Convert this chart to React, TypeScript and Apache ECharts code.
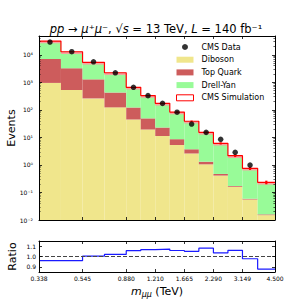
import React, { useEffect, useRef } from 'react';
import * as echarts from 'echarts';

// ---- data ----
const binEdges = [0.338, 0.43, 0.545, 0.693, 0.88, 1.032, 1.21, 1.419, 1.665, 1.952, 2.29, 2.685, 3.149, 3.72, 4.5];
const diboson = [950, 520, 260, 123, 45, 19.3, 11.2, 5.3, 2.6, 1.05, 0.41, 0.16, 0.056, 0.015];
const topQuark = [6050, 2690, 1020, 302, 76, 29.7, 11.6, 3.3, 1.1, 0.26, 0.06, 0.012, 0.003, 0.001];
const drellYan = [24500, 9640, 4020, 1795, 535, 281, 149, 74.4, 34.9, 13.9, 5.61, 1.99, 0.694, 0.217];
const cmsData: (number | null)[] = [29000, 12900, 5570, 2220, 656, 328, 172, 82, 30.5, 15.2, 8.5, 2.87, 0.99, null];
const simRelErr = [0.005, 0.008, 0.01, 0.015, 0.02, 0.03, 0.04, 0.05, 0.06, 0.07, 0.09, 0.11, 0.13, 0.15];
const ratio = [0.96, 0.96, 1.003, 1.02, 1.056, 1.066, 1.072, 1.058, 1.05, 1.081, 1.035, 1.06, 0.978, 0.878];
const xTickValues = [0.338, 0.545, 0.88, 1.21, 1.665, 2.29, 3.149, 4.5];
const xTickLabels = ['0.338', '0.545', '0.880', '1.210', '1.665', '2.290', '3.149', '4.500'];
const yDecades = [-2, -1, 0, 1, 2, 3, 4];
const ratioTicks = [0.9, 1.0, 1.1];
const eventsRange = [0.01, 48000];
const ratioRange = [0.85, 1.15];

const COLORS = {
  diboson: '#f0e68c',
  top: '#cd5c5c',
  dy: '#98fb98',
  sim: '#ff0000',
  band: '#f5a3a3',
  ratio: '#1a1aff',
};
const FONT = 'DejaVu Sans';

const lg = (v: number) => Math.log10(v);
const SUP: Record<string, string> = { '-': '⁻', '0': '⁰', '1': '¹', '2': '²', '3': '³', '4': '⁴', '5': '⁵', '6': '⁶', '7': '⁷', '8': '⁸', '9': '⁹' };
const sup = (n: number) => String(n).split('').map((c) => SUP[c] || c).join('');

function buildOption() {
  const n = binEdges.length - 1;
  const lo = binEdges.slice(0, -1).map(lg);
  const hi = binEdges.slice(1).map(lg);
  const centers = lo.map((l, i) => (l + hi[i]) / 2);
  const c1 = diboson.map((v) => v);
  const c2 = c1.map((v, i) => v + topQuark[i]);
  const c3 = c2.map((v, i) => v + drellYan[i]);
  const yMinL = lg(eventsRange[0]);
  const yMaxL = lg(eventsRange[1]);
  const xMinL = lg(binEdges[0]);
  const xMaxL = lg(binEdges[n]);
  const xTicksL = xTickValues.map(lg);

  const minor: number[] = [];
  for (const e of yDecades) {
    for (let k = 2; k <= 9; k++) {
      const v = lg(k) + e;
      if (v < yMaxL) minor.push(v);
    }
  }

  const rectRender = (color: string) => (params: any, api: any) => {
    const p0 = api.coord([api.value(0), api.value(3)]);
    const p1 = api.coord([api.value(1), api.value(2)]);
    return {
      type: 'rect',
      shape: { x: p0[0], y: p0[1], width: p1[0] - p0[0], height: p1[1] - p0[1] },
      style: { fill: color },
    };
  };

  const stackData = (base: number[] | null, top: number[]) =>
    top.map((t, i) => [lo[i], hi[i], base ? lg(base[i]) : yMinL, lg(t)]);

  const simData = c3.map((t, i) => [lo[i], hi[i], lg(t), centers[i], lg(t * (1 - simRelErr[i])), lg(t * (1 + simRelErr[i]))]);

  const stepData = binEdges.map((e, i) => [lg(e), lg(c3[Math.min(i, n - 1)])]);
  const ratioStep = binEdges.map((e, i) => [lg(e), ratio[Math.min(i, n - 1)]]);
  const dataPts = centers
    .map((c, i) => (cmsData[i] == null ? null : [c, lg(cmsData[i] as number)]))
    .filter((p) => p !== null);

  const tickStyle = { inside: true, length: 3, lineStyle: { color: '#000', width: 0.8 } };
  const minorTickStyle = { inside: true, length: 1.6, lineStyle: { color: '#000', width: 0.6 } };
  const axLine = { show: true, onZero: false, lineStyle: { color: '#000', width: 1 } };
  const noLine = { show: false, onZero: false };
  const labelFont = { fontFamily: FONT, fontSize: 6, color: '#000' };

  const xBase = (gridIndex: number, position: string) => ({
    type: 'value',
    gridIndex,
    position,
    min: xMinL,
    max: xMaxL,
    z: 10,
    axisLine: axLine,
    splitLine: { show: false },
    axisTick: { ...tickStyle, customValues: xTicksL },
    axisLabel: { show: false },
  });

  const yMain = (position: string, minorOnly: boolean, labels: boolean) => ({
    type: 'value',
    gridIndex: 0,
    position,
    min: yMinL,
    max: yMaxL,
    z: 10,
    axisLine: minorOnly ? noLine : axLine,
    splitLine: { show: false },
    axisTick: minorOnly ? { ...minorTickStyle, customValues: minor } : { ...tickStyle, customValues: yDecades },
    axisLabel: labels
      ? { show: true, customValues: yDecades, formatter: (v: number) => '10' + sup(Math.round(v)), margin: 6, ...labelFont }
      : { show: false },
    name: labels ? 'Events' : '',
    nameLocation: 'middle',
    nameGap: 22,
    nameMoveOverlap: false,
    nameTextStyle: { fontFamily: FONT, fontSize: 11, color: '#000' },
  });

  const yRatio = (position: string, labels: boolean) => ({
    type: 'value',
    gridIndex: 1,
    position,
    min: ratioRange[0],
    max: ratioRange[1],
    z: 10,
    axisLine: axLine,
    splitLine: { show: false },
    axisTick: { ...tickStyle, customValues: ratioTicks },
    axisLabel: labels
      ? { show: true, customValues: ratioTicks, formatter: (v: number) => v.toFixed(1), margin: 3, ...labelFont }
      : { show: false },
    name: labels ? 'Ratio' : '',
    nameLocation: 'middle',
    nameGap: 21.5,
    nameMoveOverlap: false,
    nameTextStyle: { fontFamily: FONT, fontSize: 11, color: '#000' },
  });

  const xRatioBottom = {
    ...xBase(1, 'bottom'),
    axisLabel: {
      show: true,
      customValues: xTicksL,
      margin: 3,
      ...labelFont,
      formatter: (v: number) => {
        let best = 0;
        xTicksL.forEach((t, i) => {
          if (Math.abs(t - v) < Math.abs(xTicksL[best] - v)) best = i;
        });
        return xTickLabels[best];
      },
    },
    name: '{i|m}{s|μμ}{n| (TeV)}',
    nameLocation: 'middle',
    nameGap: 12,
    nameMoveOverlap: false,
    nameTextStyle: {
      fontFamily: FONT,
      fontSize: 11,
      color: '#000',
      rich: {
        i: { fontFamily: FONT, fontSize: 11, fontStyle: 'italic', color: '#000' },
        s: { fontFamily: FONT, fontSize: 8, fontStyle: 'italic', color: '#000', padding: [6, 0, 0, 0] },
        n: { fontFamily: FONT, fontSize: 11, color: '#000' },
      },
    },
  };

  return {
    animation: false,
    backgroundColor: '#fff',
    textStyle: { fontFamily: FONT },
    grid: [
      { left: 39, right: 31, top: 36, height: 184, outerBoundsMode: 'none' },
      { left: 39, right: 31, top: 241, height: 31, outerBoundsMode: 'none' },
    ],
    xAxis: [xBase(0, 'bottom'), xBase(0, 'top'), xRatioBottom, xBase(1, 'top')],
    yAxis: [
      yMain('left', false, true),
      yMain('left', true, false),
      yMain('right', false, false),
      yMain('right', true, false),
      yRatio('left', true),
      yRatio('right', false),
    ],
    legend: {
      orient: 'vertical',
      left: 176,
      top: 43,
      padding: 0,
      itemWidth: 17,
      itemHeight: 6,
      itemGap: 4.7,
      selectedMode: false,
      textStyle: { fontFamily: FONT, fontSize: 8, color: '#000', padding: [0, 0, 0, 3] },
      data: [
        { name: 'CMS Data', icon: 'circle', itemStyle: { color: '#000' } },
        { name: 'Diboson', icon: 'rect', itemStyle: { color: COLORS.diboson } },
        { name: 'Top Quark', icon: 'rect', itemStyle: { color: COLORS.top } },
        { name: 'Drell-Yan', icon: 'rect', itemStyle: { color: COLORS.dy } },
        { name: 'CMS Simulation', icon: 'rect', itemStyle: { color: '#fff', borderColor: COLORS.sim, borderWidth: 1 } },
      ],
    },
    graphic: [
      {
        type: 'text',
        x: 156,
        y: 29,
        z: 100,
        style: {
          text: '{i|pp}{n| → }{i|μ}{n|⁺}{i|μ}{n|⁻, √}{i|s}{n| = 13 TeV, }{i|L}{n| = 140 fb⁻¹}',
          align: 'center',
          verticalAlign: 'middle',
          fill: '#000',
          fontFamily: FONT,
          fontSize: 11.5,
          rich: {
            i: { fontFamily: FONT, fontSize: 11.5, fontStyle: 'italic', fill: '#000' },
            n: { fontFamily: FONT, fontSize: 11.5, fill: '#000' },
          },
        },
      },
    ],
    series: [
      {
        name: 'Diboson',
        type: 'custom',
        xAxisIndex: 0,
        yAxisIndex: 0,
        itemStyle: { color: COLORS.diboson },
        renderItem: rectRender(COLORS.diboson),
        encode: { x: [0, 1], y: [2, 3] },
        data: stackData(null, c1),
      },
      {
        name: 'Top Quark',
        type: 'custom',
        xAxisIndex: 0,
        yAxisIndex: 0,
        itemStyle: { color: COLORS.top },
        renderItem: rectRender(COLORS.top),
        encode: { x: [0, 1], y: [2, 3] },
        data: stackData(c1, c2),
      },
      {
        name: 'Drell-Yan',
        type: 'custom',
        xAxisIndex: 0,
        yAxisIndex: 0,
        itemStyle: { color: COLORS.dy },
        renderItem: rectRender(COLORS.dy),
        encode: { x: [0, 1], y: [2, 3] },
        data: stackData(c2, c3),
      },
      {
        name: 'CMS Simulation',
        type: 'custom',
        xAxisIndex: 0,
        yAxisIndex: 0,
        itemStyle: { color: COLORS.sim },
        encode: { x: [0, 1], y: [4, 5] },
        renderItem: (params: any, api: any) => {
          const a = api.coord([api.value(0), api.value(2)]);
          const b = api.coord([api.value(1), api.value(2)]);
          const l = api.coord([api.value(3), api.value(4)]);
          const h = api.coord([api.value(3), api.value(5)]);
          return {
            type: 'group',
            children: [
              { type: 'rect', shape: { x: a[0], y: a[1], width: b[0] - a[0], height: 2.2 }, style: { fill: COLORS.band } },
              { type: 'line', shape: { x1: l[0], y1: l[1], x2: h[0], y2: h[1] }, style: { stroke: COLORS.sim, lineWidth: 2.2 } },
            ],
          };
        },
        data: simData,
      },
      {
        name: 'simStep',
        type: 'line',
        xAxisIndex: 0,
        yAxisIndex: 0,
        step: 'end',
        showSymbol: false,
        symbol: 'none',
        lineStyle: { color: COLORS.sim, width: 1.2 },
        data: stepData,
        z: 3,
      },
      {
        name: 'CMS Data',
        type: 'scatter',
        xAxisIndex: 0,
        yAxisIndex: 0,
        symbol: 'circle',
        symbolSize: 5.5,
        itemStyle: { color: '#000' },
        data: dataPts,
        z: 5,
      },
      {
        name: 'ratio',
        type: 'line',
        xAxisIndex: 2,
        yAxisIndex: 4,
        step: 'end',
        showSymbol: false,
        symbol: 'none',
        lineStyle: { color: COLORS.ratio, width: 1.2 },
        data: ratioStep,
        markLine: {
          silent: true,
          symbol: 'none',
          label: { show: false },
          lineStyle: { color: '#444', width: 1.1, type: [4, 2] },
          data: [{ yAxis: 1 }],
        },
      },
    ],
  };
}

export default function App() {
  const ref = useRef<HTMLDivElement>(null);
  useEffect(() => {
    document.body.style.margin = '0';
    const chart = echarts.init(ref.current as HTMLDivElement, null, { renderer: 'svg' });
    chart.setOption(buildOption() as any);
    return () => chart.dispose();
  }, []);
  return <div ref={ref} style={{ width: 306, height: 306 }} />;
}
